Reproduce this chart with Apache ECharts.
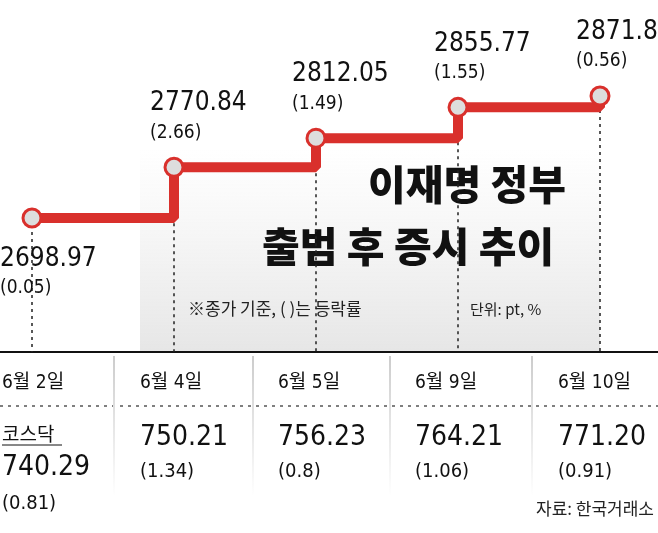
<!DOCTYPE html><html><head><meta charset="utf-8"><script src="https://cdn.jsdelivr.net/npm/echarts@6/dist/echarts.min.js"></script>
<style>html,body{margin:0;padding:0;background:#fff}#c{width:658px;height:533px}</style></head><body><div id="c"></div><script>
const dates=['6월 2일','6월 4일','6월 5일','6월 9일','6월 10일'];
const kospi=[2698.97,2770.84,2812.05,2855.77,2871.85];
const kospiChg=['0.05','2.66','1.49','1.55','0.56'];
const kosdaq=['740.29','750.21','756.23','764.21','771.20'];
const kosdaqChg=['0.81','1.34','0.8','1.06','0.91'];
const FF='"DejaVu Sans Condensed","Liberation Sans Narrow","Noto Sans CJK KR",sans-serif';
const F=FF;
const K='"Noto Sans CJK KR",sans-serif';
const chart=echarts.init(document.getElementById('c'));
const colX=[2,140,278,415,558];
const g=[
 {type:'rect',z:-1,shape:{x:140,y:150,width:460,height:202},style:{fill:new echarts.graphic.LinearGradient(0,0,0,1,[{offset:0,color:'rgba(235,235,235,0)'},{offset:1,color:'#e6e6e6'}])}},
 {type:'text',left:368,top:164,style:{text:'이재명 정부',font:'900 41px '+K,fill:'#111'}},
 {type:'text',left:262,top:226,style:{text:'출범 후 증시 추이',font:'900 41px '+K,fill:'#111'}},
 {type:'text',left:188,top:300,style:{text:'※종가 기준, ( )는 등락률',font:'17px '+K,fill:'#222'}},
 {type:'text',left:470,top:302,style:{text:'단위: pt, %',font:'15px '+K,fill:'#222'}},
 {type:'line',shape:{x1:0,y1:352,x2:658,y2:352},style:{stroke:'#111',lineWidth:2}},
 {type:'line',shape:{x1:0,y1:406,x2:658,y2:406},style:{stroke:'#555',lineWidth:1.5,lineDash:[3,5]}},
 {type:'text',left:2,top:424,style:{text:'코스닥',font:'19px '+K,fill:'#111'}},
 {type:'line',shape:{x1:2,y1:445,x2:62,y2:445},style:{stroke:'#111',lineWidth:1}},
 {type:'text',right:4,top:500,style:{text:'자료: 한국거래소',font:'17px '+K,fill:'#222'}}
];
[113,252,389,531].forEach(x=>g.push({type:'rect',shape:{x:x,y:356,width:2,height:140},style:{fill:new echarts.graphic.LinearGradient(0,0,0,1,[{offset:0,color:'#ccc'},{offset:1,color:'#fff'}])}}));
dates.forEach((d,i)=>{
 g.push({type:'text',left:colX[i],top:374,style:{text:d,font:'19px '+F,fill:'#111'}});
 if(i===0){
  g.push({type:'text',left:2,top:454,style:{text:kosdaq[i],font:'28px '+F,fill:'#111'}});
  g.push({type:'text',left:2,top:494,style:{text:'('+kosdaqChg[i]+')',font:'20px '+F,fill:'#111'}});
 }else{
  g.push({type:'text',left:colX[i],top:424,style:{text:kosdaq[i],font:'28px '+F,fill:'#111'}});
  g.push({type:'text',left:colX[i],top:462,style:{text:'('+kosdaqChg[i]+')',font:'20px '+F,fill:'#111'}});
 }
});
chart.setOption({
 animation:false,
 grid:{left:32,right:58,top:76.1,height:275.9},
 xAxis:{type:'category',data:dates,boundaryGap:false,show:false},
 yAxis:{type:'value',min:2509,max:2900,show:false},
 graphic:g,
 series:[{type:'line',step:'end',data:kospi.map((v,i)=>({value:v,label:i===0?{position:'bottom',offset:[-32,10]}:{}})),
  lineStyle:{color:'#d9302c',width:10},itemStyle:{color:'#ddd',borderColor:'#d9302c',borderWidth:3},
  symbol:'circle',symbolSize:18,z:5,
  label:{show:true,position:'top',align:'left',offset:[-24,-6],
   formatter:p=>'{a|'+p.value.toFixed(2)+'}\n{b|('+kospiChg[p.dataIndex]+')}',
   rich:{a:{fontFamily:FF,fontSize:26,color:'#111',lineHeight:32},b:{fontFamily:FF,fontSize:19,color:'#111',lineHeight:26}}},
  markLine:{silent:true,symbol:'none',label:{show:false},lineStyle:{color:'#222',type:[3,4],width:1.5},z:1,
   data:kospi.map((v,i)=>[{coord:[i,v]},{coord:[i,2509]}])}
 }]
});
</script></body></html>
